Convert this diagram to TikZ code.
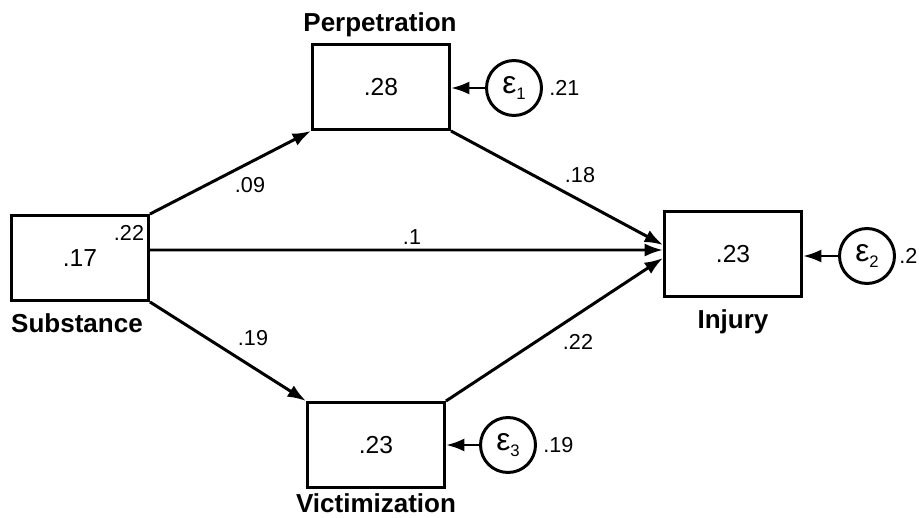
\documentclass[tikz,border=0pt]{standalone}
\usepackage{fontspec}
\setmainfont{Liberation Sans}
\usetikzlibrary{arrows.meta}
\newcommand{\errlab}[1]{{\fontsize{18}{20}\selectfont ε}\raisebox{-3pt}{\fontsize{9.5}{11}\selectfont #1}}
\tikzset{
  var/.style={draw, line width=1.7pt, minimum width=2.74cm, minimum height=1.7cm, font=\fontsize{14}{16}\selectfont},
  err/.style={draw, circle, line width=1.7pt, minimum size=1.1cm, inner sep=0pt},
  lab/.style={font=\fontsize{14.8}{17}\selectfont\bfseries},
  coef/.style={font=\fontsize{12.3}{15}\selectfont, inner sep=0pt},
  arr/.style={line width=1.7pt, -{Latex[length=10.5pt,width=7.5pt]}}
}
\begin{document}
\begin{tikzpicture}[x=0.02cm, y=-0.02cm]
            \useasboundingbox (0,0) rectangle (919,517);
            \node[var] (sub) at (80,258) {.17};
            \node[var] (perp) at (381,87) {.28};
            \node[var] (inj) at (733,254) {.23};
            \node[var] (vic) at (376,445) {.23};

            \node[err] (e1) at (514,88) {\errlab{1}};
            \node[err] (e2) at (867,256) {\errlab{2}};
            \node[err] (e3) at (508,445) {\errlab{3}};

            \node[lab] (sublab) at (77,323) {Substance};
            \node[lab] (perplab) at (380,25) {Perpetration};
            \node[lab] (injlab) at (733,322) {Injury};
            \node[lab, inner sep=1pt] (viclab) at (376,503) {Victimization};

            \node[coef] (r0) at (129,233) {.22};
            \node[coef, anchor=west] (r1) at (549,88) {.21};
            \node[coef, anchor=west] (r2) at (899,256) {.2};
            \node[coef, anchor=west] (r3) at (543,445) {.19};

            \node[coef] (c1) at (250,185) {.09};
            \node[coef] (c2) at (412,237) {.1};
            \node[coef] (c3) at (253,338) {.19};
            \node[coef] (c4) at (580,175) {.18};
            \node[coef] (c5) at (578,342) {.22};

            \draw[arr] (sub.north east) -- (perp.south west);
            \draw[arr] ([yshift=.16cm]sub.east) -- ([yshift=.08cm]inj.west);
            \draw[arr] (sub.south east) -- (vic.north west);
            \draw[arr] (perp.south east) -- ([yshift=.18cm]inj.west);
            \draw[arr] (vic.north east) -- ([yshift=-.08cm]inj.west);

            \foreach \e/\v in {e1/perp, e2/inj, e3/vic}
                \draw[arr] (\e.west) -- (\e.west -| \v.east);
        \end{tikzpicture}
\end{document}
